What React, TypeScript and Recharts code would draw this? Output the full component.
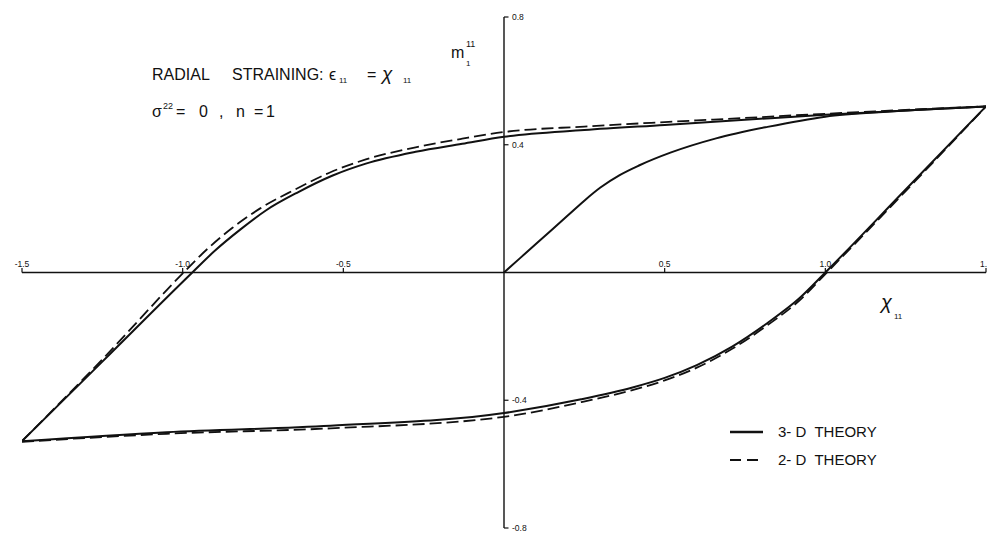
import {
  ComposedChart,
  Line,
  XAxis,
  YAxis,
  ReferenceLine,
  ReferenceDot,
  Legend,
} from 'recharts';

// axis ticks
const xTicks = [-1.5, -1.0, -0.5, 0.5, 1.0, 1.5];
const xTickLabels = ['-1.5', '-1.0', '-0.5', '0.5', '1.0', '1.5'];
const yTicks = [0.8, 0.4, -0.4, -0.8];
const yTickLabels = ['0.8', '0.4', '-0.4', '-0.8'];

// 3-D theory: initial loading from the origin
const loading3dX = [0, 0.1, 0.2, 0.25, 0.3, 0.36, 0.42, 0.52, 0.66, 0.82, 1.0, 1.2, 1.5];
const loading3dY = [0, 0.09, 0.18, 0.225, 0.266, 0.305, 0.335, 0.376, 0.42, 0.456, 0.488, 0.504, 0.52];

// 3-D theory: reverse loading branch (lower)
const unload3dX = [-1.5, -1.05, -0.54, 0, 0.24, 0.4, 0.5, 0.6, 0.71, 0.82, 0.92, 1.0, 1.25, 1.5];
const unload3dY = [-0.528, -0.5, -0.48, -0.44, -0.397, -0.36, -0.33, -0.29, -0.232, -0.158, -0.08, 0, 0.26, 0.52];

// 3-D theory: reloading branch (upper)
const reload3dX = [-1.5, -1.25, -0.97, -0.9, -0.82, -0.74, -0.64, -0.535, -0.43, -0.275, -0.13, 0, 0.25, 0.5, 0.75, 1.0, 1.25, 1.5];
const reload3dY = [-0.528, -0.279, 0, 0.068, 0.135, 0.195, 0.252, 0.303, 0.341, 0.378, 0.403, 0.425, 0.446, 0.462, 0.478, 0.494, 0.507, 0.52];

// 2-D theory
const unload2dX = [-1.5, -1.05, -0.54, 0, 0.24, 0.4, 0.5, 0.6, 0.71, 0.82, 0.92, 1.0, 1.25, 1.5];
const unload2dY = [-0.53, -0.505, -0.488, -0.452, -0.406, -0.368, -0.338, -0.298, -0.239, -0.165, -0.087, -0.005, 0.255, 0.52];

const reload2dX = [-1.5, -1.25, -0.997, -0.925, -0.845, -0.76, -0.65, -0.54, -0.43, -0.275, -0.13, 0, 0.25, 0.5, 0.75, 1.0, 1.25, 1.5];
const reload2dY = [-0.528, -0.272, 0, 0.072, 0.14, 0.2, 0.26, 0.314, 0.354, 0.392, 0.419, 0.44, 0.457, 0.471, 0.484, 0.497, 0.509, 0.52];

const toPoints = (xs: number[], ys: number[]) => xs.map((x, i) => ({ x, y: ys[i] }));

const INK = '#111';
const FONT = '"Liberation Sans", Arial, sans-serif';
const DASH = '12 5';

const renderLegend = () => (
  <div style={{ fontFamily: FONT, fontSize: 15, color: INK, lineHeight: '28px' }}>
    <div style={{ display: 'flex', alignItems: 'center' }}>
      <svg width={34} height={6} style={{ marginRight: 14 }}>
        <line x1={0} y1={3} x2={33} y2={3} stroke={INK} strokeWidth={2.5} />
      </svg>
      <span style={{ whiteSpace: 'pre' }}>3- D  THEORY</span>
    </div>
    <div style={{ display: 'flex', alignItems: 'center' }}>
      <svg width={34} height={6} style={{ marginRight: 14 }}>
        <line x1={0} y1={3} x2={31} y2={3} stroke={INK} strokeWidth={1.8} strokeDasharray="11 6" />
      </svg>
      <span style={{ whiteSpace: 'pre' }}>2- D  THEORY</span>
    </div>
  </div>
);

export default function App() {
  const solid = { stroke: INK, strokeWidth: 2, dot: false, isAnimationActive: false, legendType: 'none' as const };
  const dashed = { ...solid, strokeWidth: 1.8, strokeDasharray: DASH };

  return (
    <div style={{ position: 'absolute', left: 0, top: 0, width: 987, height: 539, overflow: 'hidden', background: '#fff' }}>
      <ComposedChart width={990} height={539} margin={{ top: 17, right: 4, bottom: 11, left: 22 }}>
        <XAxis dataKey="x" type="number" domain={[-1.5, 1.5]} hide allowDataOverflow />
        <YAxis type="number" domain={[-0.8, 0.8]} hide allowDataOverflow />

        {/* axes crossing at the origin */}
        <ReferenceLine y={0} stroke={INK} strokeWidth={1.4} />
        <ReferenceLine x={0} stroke={INK} strokeWidth={1.4} />

        {xTicks.map((t) => (
          <ReferenceLine
            key={'xt' + t}
            segment={[{ x: t, y: 0 }, { x: t, y: 0.014 }]}
            stroke={INK}
            strokeWidth={1.2}
            ifOverflow="visible"
          />
        ))}
        {xTicks.map((t, i) => (
          <ReferenceDot
            key={'xl' + t}
            x={t}
            y={0}
            r={0}
            fill="none"
            stroke="none"
            ifOverflow="visible"
            label={{ value: xTickLabels[i], position: 'top', offset: 6, fontSize: 8.5, fill: INK, fontFamily: FONT }}
          />
        ))}
        {yTicks.map((t) => (
          <ReferenceLine
            key={'yt' + t}
            segment={[{ x: 0, y: t }, { x: 0.014, y: t }]}
            stroke={INK}
            strokeWidth={1.2}
            ifOverflow="visible"
          />
        ))}
        {yTicks.map((t, i) => (
          <ReferenceDot
            key={'yl' + t}
            x={0}
            y={t}
            r={0}
            fill="none"
            stroke="none"
            ifOverflow="visible"
            label={{ value: yTickLabels[i], position: 'right', offset: 8, fontSize: 8.5, fill: INK, fontFamily: FONT }}
          />
        ))}

        <Line data={toPoints(loading3dX, loading3dY)} dataKey="y" type="monotone" {...solid} />
        <Line data={toPoints(unload3dX, unload3dY)} dataKey="y" type="monotone" {...solid} />
        <Line data={toPoints(reload3dX, reload3dY)} dataKey="y" type="monotone" {...solid} />
        <Line data={toPoints(unload2dX, unload2dY)} dataKey="y" type="monotone" {...dashed} />
        <Line data={toPoints(reload2dX, reload2dY)} dataKey="y" type="monotone" {...dashed} />

        <Legend
          layout="vertical"
          align="center"
          verticalAlign="middle"
          content={renderLegend}
          wrapperStyle={{ left: 730, top: 418, width: 200, height: 60 }}
        />

        {/* annotations */}
        <g fontFamily={FONT} fill={INK}>
          <text x={152} y={80} fontSize={16}>
            RADIAL
            <tspan x={232}>STRAINING:</tspan>
            <tspan x={329}>ϵ</tspan>
            <tspan x={339} dy={3} fontSize={8}>11</tspan>
            <tspan x={367} dy={-3}>=</tspan>
            <tspan x={382} fontSize={19} fontStyle="italic">χ</tspan>
            <tspan x={403} dy={3} fontSize={8}>11</tspan>
          </text>
          <text x={152} y={117} fontSize={16}>
            σ
            <tspan x={163} dy={-8} fontSize={9}>22</tspan>
            <tspan x={176} dy={8}>=</tspan>
            <tspan x={199}>0</tspan>
            <tspan x={219}>,</tspan>
            <tspan x={236}>n</tspan>
            <tspan x={254}>=</tspan>
            <tspan x={266}>1</tspan>
          </text>
          <text x={451} y={58} fontSize={16}>m</text>
          <text x={466} y={47} fontSize={9}>11</text>
          <text x={466} y={66} fontSize={8}>1</text>
          <text x={881} y={309} fontSize={20} fontStyle="italic">χ</text>
          <text x={894} y={319} fontSize={8}>11</text>
        </g>
      </ComposedChart>
    </div>
  );
}
